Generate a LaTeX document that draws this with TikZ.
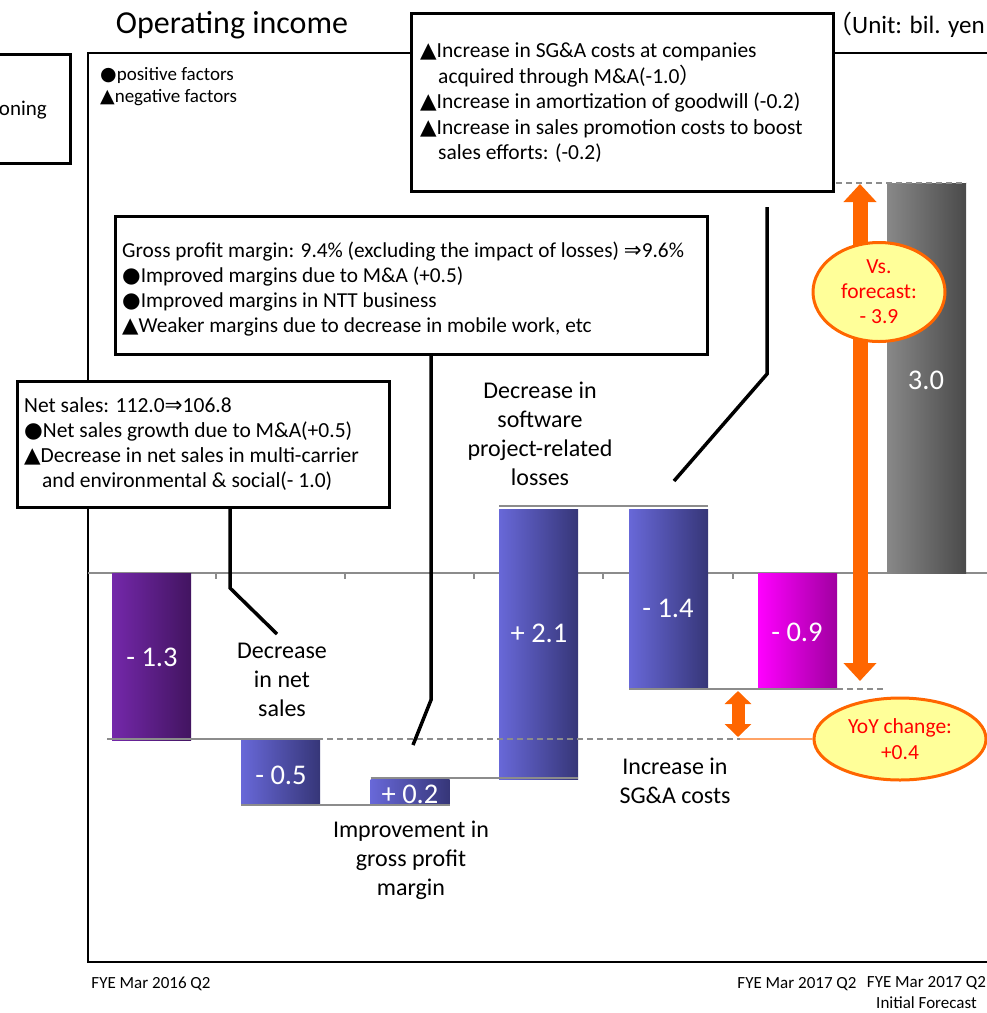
\documentclass[tikz,border=0pt]{standalone}
\usepackage{fontspec}
\setmainfont{Carlito}
\newfontfamily\symfont{DejaVu Sans}
\newfontfamily\cjkfont{Noto Sans CJK JP}
\usetikzlibrary{arrows.meta,shapes.geometric}
\newcommand{\fsz}[2]{\fontsize{#1}{#2}\selectfont}
\newcommand{\sdot}{{\symfont ●}}
\newcommand{\stri}{{\symfont ▲}}
\newcommand{\sarr}{{\symfont ⇒}}
\newcommand{\fwl}{{\cjkfont （}}
\newcommand{\fwr}{{\cjkfont ）}}
\definecolor{purpleL}{RGB}{116,40,170}
\definecolor{purpleR}{RGB}{66,20,96}
\definecolor{blueL}{RGB}{104,104,216}
\definecolor{blueR}{RGB}{54,54,120}
\definecolor{magL}{RGB}{255,0,255}
\definecolor{magR}{RGB}{160,0,160}
\definecolor{grayL}{RGB}{136,136,136}
\definecolor{grayR}{RGB}{74,74,74}
\definecolor{linkgray}{RGB}{140,140,140}
\definecolor{accent}{RGB}{255,102,0}
\definecolor{paleyellow}{RGB}{255,255,153}
\definecolor{alert}{RGB}{255,0,0}
\begin{document}
\begin{tikzpicture}[x=1pt,y=-1pt,
  frameline/.style={draw=black, line width=1.5pt},
  axisline/.style={draw=linkgray, line width=2pt},
  link/.style={draw=linkgray, line width=2pt},
  guide/.style={draw=linkgray, line width=1.5pt, dash pattern=on 6pt off 4pt},
  bar/.style={inner sep=0pt, outer sep=0pt, minimum width=79pt},
  barlabel/.style={text=white, font=\fsz{28.5}{32}, inner sep=0pt},
  callout/.style={draw=black, line width=3pt, fill=white, inner sep=0pt},
  calltext/.style={align=left, inner sep=0pt, anchor=west},
  leader/.style={draw=black, line width=3.5pt},
  cat/.style={align=center, font=\fsz{24}{29}, inner sep=0pt},
  bubble/.style={ellipse, draw=accent, line width=3pt, fill=paleyellow, text=alert, align=center, inner sep=0pt},
  axislabel/.style={font=\fsz{17}{21}, inner sep=0pt, align=center}
]
\useasboundingbox (0,0) rectangle (987,1013);
\clip (0,0) rectangle (987,1013);

% title and unit
\node[font=\fsz{32}{36}, inner sep=0pt] (title) at (232,25) {Operating income};
\node[font=\fsz{25}{28}, inner sep=0pt, anchor=west] (unit) at (827,25) {\fwl Unit: bil. yen};

% chart frame
\draw[frameline] (1000,53) -- (88,53) -- (88,962) -- (1000,962);

% legend
\node[font=\fsz{19}{22}, align=left, inner sep=0pt, anchor=north west] (legend) at (100,67)
  {\sdot positive factors\\\stri negative factors};

% zero axis with ticks
\draw[axisline] (88,573) -- (987,573);
\foreach \tx in {216,345,474,603,733,862}
  \draw[draw=linkgray, line width=1.5pt] (\tx,573) -- (\tx,579);

% bars
\node[bar, minimum height=167pt, left color=purpleL, right color=purpleR] (b1) at (151.5,656.5) {};
\node[bar, minimum height=65pt,  left color=blueL,   right color=blueR]   (b2) at (280.5,772.5) {};
\node[bar, minimum height=26pt,  left color=blueL,   right color=blueR]   (b3) at (410,792) {};
\node[bar, minimum height=270pt, left color=blueL,   right color=blueR]   (b4) at (538.5,644) {};
\node[bar, minimum height=180pt, left color=blueL,   right color=blueR]   (b5) at (668.5,599) {};
\node[bar, minimum height=116pt, left color=magL,    right color=magR]    (b6) at (797.5,631) {};
\node[bar, minimum height=390pt, left color=grayL,   right color=grayR]   (b7) at (926.5,378) {};

% bar values
\node[barlabel] (v1) at (152,657) {- 1.3};
\node[barlabel] (v2) at (281,775) {- 0.5};
\node[barlabel] (v3) at (410,794) {+ 0.2};
\node[barlabel] (v4) at (539,633) {+ 2.1};
\node[barlabel] (v5) at (668,608) {- 1.4};
\node[barlabel] (v6) at (797,632) {- 0.9};
\node[barlabel] (v7) at (926,380) {3.0};

% step connectors between bars
\coordinate (prevbase) at (107,739);
\coordinate (yoyfoot) at (740,739);
\coordinate (fcfoot) at (885,689);
\coordinate (fcheadL) at (836,183);
\draw[guide] (prevbase) -- (yoyfoot);
\draw[link] ([yshift=1pt]b1.south west) -- ([yshift=1pt]b2.north east);
\draw[link] (b2.south west) -- (b3.south east);
\draw[link] ([yshift=1pt]b3.north west) -- ([yshift=1pt]b4.south east);
\draw[link] ([yshift=3pt]b4.north west) -- ([yshift=3pt]b5.north east);
\draw[link] (b5.south west) -- (b6.south east);
\draw[guide] (b6.south east) -- (fcfoot);
\draw[guide] (fcheadL) -- (b7.north east);

% category labels
\node[cat] (c2) at (282,680) {Decrease\\in net\\sales};
\node[cat] (c3) at (411,860) {Improvement in\\gross profit\\margin};
\node[cat] (c4) at (540,434) {Decrease in\\software\\project-related\\losses};
\node[cat] (c5) at (675,781) {Increase in\\SG\&A costs};

% left edge box (cut by the page)
\node[callout, minimum width=120pt, minimum height=109pt, anchor=north east] (posbox) at (72,53) {};
\node[font=\fsz{21}{24}, inner sep=0pt, anchor=east] (postxt) at (47,110) {oning};

% callout: SG&A
\node[callout, minimum width=422pt, minimum height=178pt, anchor=north west] (sgbox) at (410,12) {};
\node[calltext, font=\fsz{21.5}{25.5}, anchor=north west] (sgtxt) at (420,43)
  {\stri Increase in SG\&A costs at companies\\
   \hspace*{18pt}acquired through M\&A(-1.0\fwr\\
   \stri Increase in amortization of goodwill (-0.2)\\
   \stri Increase in sales promotion costs to boost\\
   \hspace*{18pt}sales efforts: (-0.2)};

% callout: gross profit margin
\node[callout, minimum width=592pt, minimum height=138pt, anchor=north west] (gpbox) at (114,215) {};
\node[calltext, font=\fsz{21.3}{25}, anchor=north west] (gptxt) at (122,242)
  {Gross profit margin: 9.4\% (excluding the impact of losses) \sarr9.6\%\\
   \sdot Improved margins due to M\&A (+0.5)\\
   \sdot Improved margins in NTT business\\
   \stri Weaker margins due to decrease in mobile work, etc};

% callout: net sales
\node[callout, minimum width=372pt, minimum height=126pt, anchor=north west] (nsbox) at (16,380) {};
\node[calltext, font=\fsz{21.5}{25}, anchor=north west] (nstxt) at (24,397)
  {Net sales: 112.0\sarr106.8\\
   \sdot Net sales growth due to M\&A(+0.5)\\
   \stri Decrease in net sales in multi-carrier\\
   \hspace*{18pt}and environmental \& social(- 1.0)};

% leader lines
\coordinate (nsbend) at (230,588);
\coordinate (nsend) at (277,634);
\draw[leader] (nsbox.south -| nsbend) -- (nsbend) -- (nsend);
\coordinate (gpbend) at (431,700);
\coordinate (gpend) at (413,745);
\draw[leader] (gpbox.south -| gpbend) -- (gpbend) -- (gpend);
\coordinate (sgtop) at (767,207);
\coordinate (sgbend) at (767,374);
\coordinate (sgend) at (674,481);
\draw[leader] (sgtop) -- (sgbend) -- (sgend);

% gap arrows
\coordinate (fctop) at (860,184);
\coordinate (fcbot) at (860,681);
\draw[draw=accent, line width=15pt, {Triangle[width=32pt,length=18pt]}-{Triangle[width=32pt,length=18pt]}] (fctop) -- (fcbot);
\coordinate (yoytop) at (738,691);
\coordinate (yoybot) at (738,737);
\draw[draw=accent, line width=13pt, {Triangle[width=26pt,length=13pt]}-{Triangle[width=26pt,length=13pt]}] (yoytop) -- (yoybot);

% difference bubbles
\node[bubble, minimum width=132pt, minimum height=99pt, font=\fsz{21.5}{25}] (fc) at (879,292) {Vs.\\forecast:\\- 3.9};
\node[bubble, minimum width=172pt, minimum height=82pt, font=\fsz{21.5}{26}] (yoy) at (900,739) {YoY change:\\+0.4};
\draw[draw=accent!60, line width=1.5pt] (yoyfoot) -- (yoy.west);

% category axis labels
\node[axislabel] (x1) at (151,984) {FYE Mar 2016 Q2};
\node[axislabel] (x6) at (797,984) {FYE Mar 2017 Q2};
\node[axislabel] (x7) at (926.5,993) {FYE Mar 2017 Q2\\Initial Forecast};
\end{tikzpicture}
\end{document}
